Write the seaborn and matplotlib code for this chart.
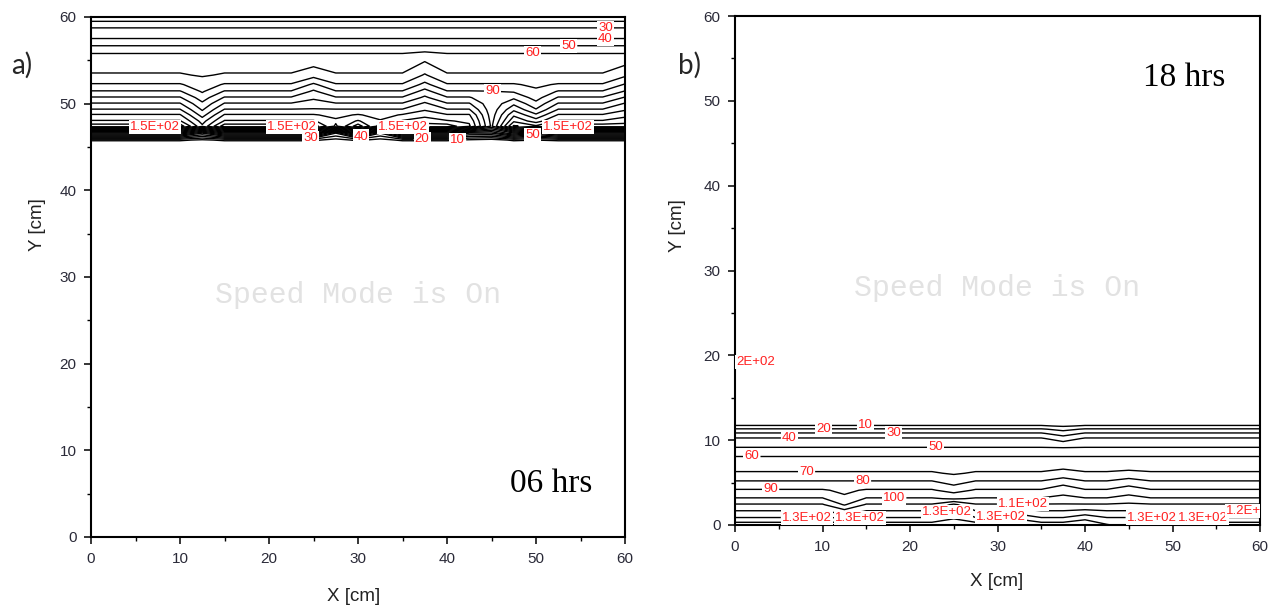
import numpy as np
import matplotlib
matplotlib.use("Agg")
import matplotlib.pyplot as plt
from matplotlib.ticker import MultipleLocator
import seaborn as sns

# ---------------- data ----------------
x_grid = [0, 2.5, 5, 7.5, 10, 12.5, 15, 17.5, 20, 22.5, 25, 27.5, 30,
          32.5, 35, 37.5, 40, 42.5, 45, 47.5, 50, 52.5, 55, 57.5, 60]

# panel a (06 hrs): rows of y, base profile, columns that differ
levels_a = [10, 20, 30, 40, 50, 60, 70, 80, 90, 100, 110, 120, 130, 140, 150]
y_a = [44.0, 45.4, 45.8, 46.6, 47.4, 48.0, 48.7, 49.3, 50.0, 50.7, 51.4,
       52.2, 53.3, 55.7, 56.6, 57.6, 58.6, 59.4, 60.0]
base_a = [0, 2, 12, 80, 156, 141, 131, 121, 111, 101, 91, 81, 71, 61, 51, 39, 32, 21, 15]
cols_a = {
    12.5: [0, 2, 8, 50, 122, 116, 106, 99, 92, 85, 79, 75, 69, 61, 51, 39, 32, 21, 15],
    25.0: [0, 2, 12, 80, 156, 141, 131, 121, 115, 108, 102, 92, 76, 61, 51, 39, 32, 21, 15],
    27.5: [0, 2, 6, 30, 128, 132, 127, 121, 111, 101, 91, 81, 71, 61, 51, 39, 32, 21, 15],
    32.5: [0, 2, 6, 30, 125, 131, 126, 121, 111, 101, 91, 81, 71, 61, 51, 39, 32, 21, 15],
    37.5: [0, 2, 12, 80, 156, 145, 137, 129, 122, 112, 104, 93, 81, 64, 51, 39, 32, 21, 15],
    42.5: [0, 2, 8, 50, 142, 138, 131, 121, 111, 101, 91, 81, 71, 61, 51, 39, 32, 21, 15],
    45.0: [0, 2, 5, 50, 98, 96.5, 95, 94, 93, 92, 90.5, 81, 71, 61, 51, 39, 32, 21, 15],
    47.5: [0, 2, 12, 80, 152, 138, 128, 118, 108, 98, 89, 81, 71, 61, 51, 39, 32, 21, 15],
    50.0: [0, 2, 10, 60, 142, 125, 112, 101, 93, 86, 82, 78, 71, 61, 51, 39, 32, 21, 15],
    60.0: [0, 2, 12, 80, 156, 145, 137, 129, 121, 111, 101, 91, 78, 61, 51, 39, 32, 21, 15],
}
labels_a = [(30, 57.8, 58.8), (40, 57.8, 57.4), (50, 53.7, 56.6), (60, 49.6, 55.6),
            (90, 45.4, 51.9), (150, 7.2, 47.4), (150, 22.6, 47.4), (150, 35.1, 47.4),
            (150, 53.6, 47.4), (30, 24.7, 45.9), (40, 31.0, 46.0), (20, 37.2, 45.8),
            (10, 41.3, 45.7), (50, 49.6, 46.4)]

# panel b (18 hrs)
levels_b = [10, 20, 30, 40, 50, 60, 70, 80, 90, 100, 110, 120, 130, 140]
y_b = [0.0, 0.8, 1.6, 2.4, 3.1, 4.1, 5.1, 6.1, 8.05, 9.04, 10.2, 10.8, 11.3, 11.67, 12.2, 60.0]
base_b = [146, 131, 121, 111, 101, 91, 81, 71, 61, 51, 41, 31, 21, 11, 3, 0]
cols_b = {
    12.5: [146, 131, 114, 99, 92, 88, 81, 71, 61, 51, 41, 31, 21, 11, 3, 0],
    25.0: [150, 139, 133, 122, 99, 86, 76, 69, 61, 51, 41, 31, 21, 11, 3, 0],
    32.5: [150, 138, 124, 112, 101, 91, 81, 71, 61, 51, 41, 31, 21, 11, 3, 0],
    37.5: [146, 131, 121, 111, 103, 96, 86, 73, 61, 51, 35, 25, 17, 9, 3, 0],
    40.0: [150, 137, 123, 111, 101, 91, 81, 71, 61, 51, 41, 31, 21, 11, 3, 0],
    42.5: [141, 131, 121, 111, 101, 91, 81, 71, 61, 51, 41, 31, 21, 11, 3, 0],
    45.0: [136, 131, 121, 112, 104, 95, 85, 72, 61, 51, 41, 31, 21, 11, 3, 0],
    47.5: [136, 131, 121, 111, 101, 91, 81, 71, 61, 51, 41, 31, 21, 11, 3, 0],
}
labels_b = [(10, 14.9, 11.6), (20, 10.1, 11.2), (30, 18.1, 10.6), (40, 6.2, 10.1),
            (50, 22.9, 9.0), (60, 1.9, 8.0), (70, 8.2, 6.0), (80, 14.6, 5.0),
            (90, 4.1, 4.0), (100, 18.2, 3.1), (130, 24.0, 2.1), (110, 32.9, 2.4),
            (130, 30.4, 0.9), (130, 8.2, 0.9), (130, 14.3, 0.9), (130, 47.6, 1.0),
            (130, 53.5, 1.0), (120, 59.0, 1.7)]

# ---------------- style ----------------
sns.set_theme(style="ticks")
plt.rcParams['font.family'] = ['Liberation Sans', 'DejaVu Sans']

LABEL_RED = '#ff2020'
TICK_COL = '#2a2a38'
LABEL_SIZE = 9.5


def fmt(v):
    return f"{v:.1E}" if v > 100 else f"{v:.0f}"


def build_grid(y, base, cols):
    z = np.tile(np.array(base, float)[:, None], (1, len(x_grid)))
    for xv, col in cols.items():
        z[:, x_grid.index(xv)] = col
    return z


def draw_panel(ax, y, base, cols, levels, labels):
    z = build_grid(y, base, cols)
    cs = ax.contour(x_grid, y, z, levels=levels, colors='black', linewidths=1.0)
    # set up label properties for all levels, then place each label on its own level
    cs.clabel(fmt=fmt, colors=[LABEL_RED], fontsize=LABEL_SIZE, inline=True,
              inline_spacing=1, manual=[])
    all_idx = list(range(len(cs.levels)))
    orig_width = cs._get_nth_label_width
    lev_list = list(cs.levels)
    for lev, lx, ly in labels:
        idx = lev_list.index(lev)
        cs.labelIndiceList = [idx]
        cs._get_nth_label_width = (lambda nth, i=idx: orig_width(i))
        cs.add_label_near(lx, ly, inline=True, inline_spacing=1)
    cs.labelIndiceList = all_idx
    cs._get_nth_label_width = orig_width
    for t in list(ax.texts):
        t.set_rotation(0)
        t.set_bbox(dict(boxstyle='square,pad=0.08', facecolor='white', edgecolor='none'))
        t.set_clip_on(True)
    ax.set_xlim(0, 60)
    ax.set_ylim(0, 60)
    ax.xaxis.set_major_locator(MultipleLocator(10))
    ax.yaxis.set_major_locator(MultipleLocator(10))
    ax.xaxis.set_minor_locator(MultipleLocator(5))
    ax.yaxis.set_minor_locator(MultipleLocator(5))
    ax.tick_params(which='major', direction='out', length=5, width=1.1, pad=5.5,
                   labelsize=11, labelcolor=TICK_COL, color='black')
    ax.tick_params(which='minor', direction='out', length=3, width=1.0, color='black')
    for s in ax.spines.values():
        s.set_color('black')
        s.set_linewidth(1.5)
    ax.set_xlabel('X [cm]', fontsize=13.5, color='#222222')
    ax.set_ylabel('Y [cm]', fontsize=13.5, color='#222222')
    ax.text(30, 27.9, 'Speed Mode is On', ha='center', va='center',
            fontsize=21.5, color='#e2e2e2', family=['Liberation Mono', 'DejaVu Sans Mono'],
            zorder=0)


fig = plt.figure(figsize=(12.76, 6.14), dpi=100)
ax_a = fig.add_axes([91 / 1276, 77 / 614, 534 / 1276, 520 / 614])
ax_b = fig.add_axes([735 / 1276, 89 / 614, 525 / 1276, 509 / 614])

draw_panel(ax_a, y_a, base_a, cols_a, levels_a, labels_a)
draw_panel(ax_b, y_b, base_b, cols_b, levels_b, labels_b)

t = ax_b.text(0.1, 19.2, '2E+02', ha='left', va='center', fontsize=LABEL_SIZE, color=LABEL_RED)
t.set_bbox(dict(boxstyle='square,pad=0.08', facecolor='white', edgecolor='none'))
t.set_clip_on(True)

ax_a.xaxis.set_label_coords(0.4925, -0.098)
ax_a.yaxis.set_label_coords(-0.085, 0.60)
ax_b.xaxis.set_label_coords(0.499, -0.095)
ax_b.yaxis.set_label_coords(-0.094, 0.589)

ax_a.text(51.7, 6.2, '06 hrs', ha='center', va='center', fontsize=24,
          family=['Liberation Serif', 'DejaVu Serif'], color='black')
ax_b.text(51.3, 52.7, '18 hrs', ha='center', va='center', fontsize=24,
          family=['Liberation Serif', 'DejaVu Serif'], color='black')

fig.text(22 / 1276, 1 - 65 / 614, 'a)', ha='center', va='center', fontsize=20,
         family=['Lato', 'DejaVu Sans'])
fig.text(690 / 1276, 1 - 65 / 614, 'b)', ha='center', va='center', fontsize=20,
         family=['Lato', 'DejaVu Sans'])

fig.savefig('out.png', dpi=100, facecolor='white')
